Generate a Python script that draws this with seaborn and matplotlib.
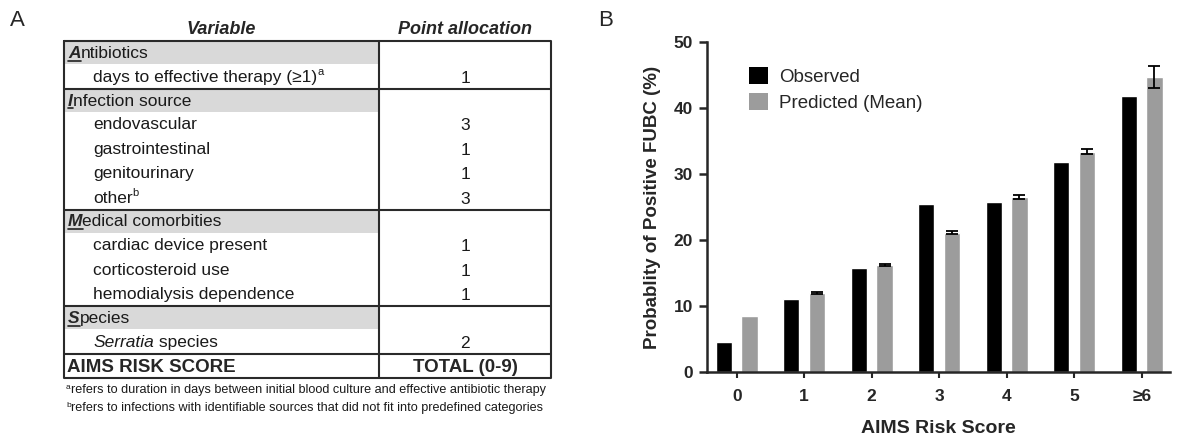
import numpy as np
import pandas as pd
import matplotlib
matplotlib.use("Agg")
import matplotlib.pyplot as plt
from matplotlib.patches import Patch, Rectangle
import seaborn as sns

# Panel A: the AIMS score table
sections = ["Antibiotics", "Infection source", "Medical comorbities", "Species"]
section_items = [
    ["days to effective therapy (\u22651)"],
    ["endovascular", "gastrointestinal", "genitourinary", "other"],
    ["cardiac device present", "corticosteroid use", "hemodialysis dependence"],
    ["Serratia species"],
]
section_points = [[1], [3, 1, 1, 3], [1, 1, 1], [2]]
item_notes = {"days to effective therapy (\u22651)": "a", "other": "b"}
italic_words = {"Serratia species": "Serratia"}
total_label = "AIMS RISK SCORE"
total_value = "TOTAL (0-9)"
footnotes = [
    ("a", "refers to duration in days between initial blood culture and effective antibiotic therapy"),
    ("b", "refers to infections with identifiable sources that did not fit into predefined categories"),
]

# Panel B: observed vs predicted probability
scores = ["0", "1", "2", "3", "4", "5", "\u22656"]
observed = [4.5, 11.1, 15.8, 25.4, 25.8, 31.8, 41.8]
predicted = [8.5, 11.9, 16.2, 21.1, 26.5, 33.4, 44.7]
predicted_err = [0.0, 0.15, 0.15, 0.2, 0.25, 0.35, 1.7]

sns.set_style("ticks")
plt.rcParams['font.family'] = ['Liberation Sans', 'DejaVu Sans']

fig = plt.figure(figsize=(11.77, 4.41), dpi=100)
canvas = fig.add_axes([0, 0, 1, 1])
canvas.set_xlim(0, 1177)
canvas.set_ylim(441, 0)
canvas.axis('off')
renderer = fig.canvas.get_renderer()


def put_runs(x, y, runs, size=11):
    # draws text pieces one after another on a shared baseline
    for txt, style in runs:
        style = dict(style)
        dy = style.pop('dy', 0)
        fs = style.pop('fontsize', size)
        t = canvas.text(x, y + dy, txt, ha='left', va='baseline', fontsize=fs,
                        color='#1a1a1a', **style)
        x += t.get_window_extent(renderer).width
    return x


left, mid, right = 64, 379, 551
top = 41
head_h, item_h = 23, 24.5
text_size = 12.5
line_kw = dict(color='#2a2a2a', lw=1.5)

canvas.text((left + mid) / 2, 30, "Variable", ha='center', va='center',
            fontsize=13, fontweight='bold', fontstyle='italic')
canvas.text((mid + right) / 2, 30, "Point allocation", ha='center', va='center',
            fontsize=13, fontweight='bold', fontstyle='italic')

y = top
for name, items, pts in zip(sections, section_items, section_points):
    canvas.add_patch(Rectangle((left, y), mid - left, head_h, color='#d9d9d9', lw=0))
    base = y + head_h / 2 + 5.5
    t = canvas.text(left + 4, base, name[0], ha='left', va='baseline', fontsize=text_size,
                    fontweight='bold', fontstyle='italic')
    bb = t.get_window_extent(renderer)
    canvas.plot([left + 4, left + 4 + bb.width], [base + 2.5, base + 2.5], color='#222', lw=1.2)
    put_runs(left + 4 + bb.width, base, [(name[1:], {})], size=text_size)
    y += head_h
    for item, p in zip(items, pts):
        base = y + item_h / 2 + 5.5
        runs = []
        if item in italic_words:
            word = italic_words[item]
            runs.append((word, {'fontstyle': 'italic'}))
            runs.append((item[len(word):], {}))
        else:
            runs.append((item, {}))
        if item in item_notes:
            runs.append((item_notes[item], {'fontsize': 8, 'dy': -7}))
        put_runs(left + 29, base, runs, size=text_size)
        canvas.text((mid + right) / 2, base + 1, str(p), ha='center', va='baseline',
                    fontsize=text_size, color='#1a1a1a')
        y += item_h
    canvas.plot([left, right], [y, y], **line_kw)

base = y + item_h / 2 + 6
canvas.text(left + 3, base, total_label, ha='left', va='baseline', fontsize=13.5, fontweight='bold')
canvas.text((mid + right) / 2, base, total_value, ha='center', va='baseline', fontsize=13.5, fontweight='bold')
bottom = y + item_h
canvas.plot([left, right, right, left, left], [top, top, bottom, bottom, top], **line_kw)
canvas.plot([mid, mid], [top, bottom], **line_kw)

fy = bottom + 11
for mark, note in footnotes:
    put_runs(left + 2, fy + 4, [(mark, {'fontsize': 6, 'dy': -4}), (note, {})], size=9.1)
    fy += 18

canvas.text(10, 20, "A", ha='left', va='center', fontsize=16)
canvas.text(598, 20, "B", ha='left', va='center', fontsize=16)

# Panel B bar chart
df = pd.DataFrame({
    "score": scores * 2,
    "value": observed + predicted,
    "series": ["Observed"] * len(scores) + ["Predicted (Mean)"] * len(scores),
})
colors = ["black", "#9c9c9c"]

ax = fig.add_axes([707 / 1177, 1 - 372 / 441, (1170 - 707) / 1177, 330 / 441])
sns.barplot(data=df, x="score", y="value", hue="series", palette=colors,
            width=0.76, gap=0.37, saturation=1, errorbar=None, ax=ax)

for bar, err in zip(ax.containers[1], predicted_err):
    if err > 0:
        ax.errorbar(bar.get_x() + bar.get_width() / 2, bar.get_height(), yerr=err,
                    color='black', capsize=4, elinewidth=1.3, capthick=1.3)

ax.set_xlim(-0.44, 6.42)
ax.set_ylim(0, 50)
ax.set_yticks(np.arange(0, 51, 10))
sns.despine(ax=ax)
for s in ["left", "bottom"]:
    ax.spines[s].set_linewidth(1.8)
ax.tick_params(axis='y', length=6, width=1.8, labelsize=12.5, pad=4)
ax.tick_params(axis='x', length=4, width=1.5, labelsize=12.5, pad=8)
for lbl in ax.get_xticklabels() + ax.get_yticklabels():
    lbl.set_fontweight('bold')
ax.set_xlabel("AIMS Risk Score", fontsize=14, fontweight='bold', labelpad=12)
ax.set_ylabel("Probablity of Positive FUBC (%)", fontsize=13.5, fontweight='bold', labelpad=9)

handles = [Patch(facecolor=c, edgecolor='none') for c in colors]
ax.legend(handles, ["Observed", "Predicted (Mean)"], loc='upper left',
          bbox_to_anchor=(0.055, 0.975), frameon=False, fontsize=13.5,
          handlelength=1.0, handleheight=1.0, handletextpad=0.6, labelspacing=0.4)

fig.savefig("out.png", dpi=100)
